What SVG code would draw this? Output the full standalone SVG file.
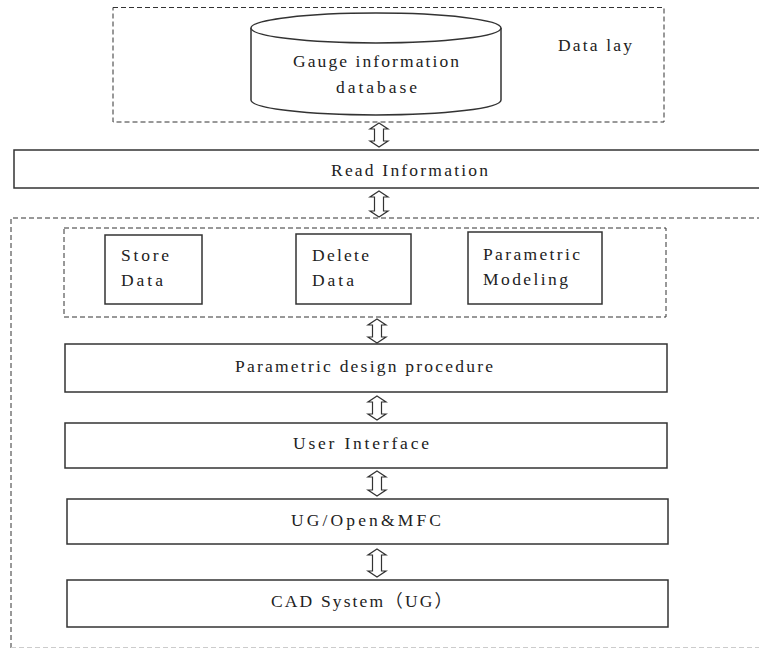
<svg xmlns="http://www.w3.org/2000/svg" width="759" height="649" viewBox="0 0 759 649">
<style>
.dash{fill:none;stroke:#333;stroke-width:1;stroke-dasharray:5,3}
.box{fill:#fff;stroke:#333;stroke-width:1.5}
.t{font-family:"Liberation Serif","Noto Sans CJK SC",serif;font-size:17.5px;fill:#222}
.arr{fill:#fff;stroke:#333;stroke-width:1.2;stroke-linejoin:miter}
</style>
<rect width="759" height="649" fill="#fff"/>
<g id="data-layer">
<rect class="dash" x="113" y="7.5" width="551" height="114.5"/>
<text class="t" x="558" y="51" textLength="74" lengthAdjust="spacing">Data lay</text>
</g>
<g id="database">
<path class="box" d="M251,28 L251,100 A125,15 0 0 0 501,100 L501,28"/>
<ellipse class="box" cx="376" cy="28" rx="125" ry="15"/>
<text class="t" x="293" y="67" textLength="166" lengthAdjust="spacing">Gauge information</text>
<text class="t" x="336" y="93" textLength="81" lengthAdjust="spacing">database</text>
</g>
<g id="read-information">
<rect class="box" x="14" y="150" width="750" height="38"/>
<text class="t" x="331" y="176" textLength="157" lengthAdjust="spacing">Read Information</text>
</g>
<g id="application-layer">
<path class="dash" d="M11,648 L11,218 L762,218"/>
<line x1="11" y1="647.5" x2="759" y2="647.5" stroke="#ccc" stroke-width="1" stroke-dasharray="5,3"/>
</g>
<g id="function-group">
<rect class="dash" x="64" y="228" width="602" height="89"/>
</g>
<g id="store-data">
<rect class="box" x="105" y="235" width="97" height="69"/>
<text class="t" x="121" y="261" textLength="48" lengthAdjust="spacing">Store</text>
<text class="t" x="121" y="286" textLength="42" lengthAdjust="spacing">Data</text>
</g>
<g id="delete-data">
<rect class="box" x="296" y="234" width="115" height="70"/>
<text class="t" x="312" y="261" textLength="57" lengthAdjust="spacing">Delete</text>
<text class="t" x="312" y="286" textLength="42" lengthAdjust="spacing">Data</text>
</g>
<g id="parametric-modeling">
<rect class="box" x="468" y="232" width="134" height="72"/>
<text class="t" x="483" y="260" textLength="97" lengthAdjust="spacing">Parametric</text>
<text class="t" x="483" y="285" textLength="85" lengthAdjust="spacing">Modeling</text>
</g>
<g id="parametric-design-procedure">
<rect class="box" x="65" y="344" width="602" height="48"/>
<text class="t" x="235" y="372" textLength="258" lengthAdjust="spacing">Parametric design procedure</text>
</g>
<g id="user-interface">
<rect class="box" x="65" y="423" width="602" height="45"/>
<text class="t" x="293" y="449" textLength="136" lengthAdjust="spacing">User Interface</text>
</g>
<g id="ug-open-mfc">
<rect class="box" x="67" y="499" width="601" height="45"/>
<text class="t" x="291" y="526" textLength="150" lengthAdjust="spacing">UG/Open&amp;MFC</text>
</g>
<g id="cad-system">
<rect class="box" x="67" y="580" width="601" height="47"/>
<text class="t" x="271" y="607" textLength="181" lengthAdjust="spacing">CAD System（UG）</text>
</g>
<g id="connectors">
<path class="arr" d="M379,123 L388,129 L383.5,129 L383.5,141 L388,141 L379,147 L370,141 L374.5,141 L374.5,129 L370,129 Z"/>
<path class="arr" d="M379,191 L388,197 L383.5,197 L383.5,211 L388,211 L379,217 L370,211 L374.5,211 L374.5,197 L370,197 Z"/>
<path class="arr" d="M377,319 L386,325 L381.5,325 L381.5,337 L386,337 L377,343 L368,337 L372.5,337 L372.5,325 L368,325 Z"/>
<path class="arr" d="M377,396 L386,402 L381.5,402 L381.5,414 L386,414 L377,420 L368,414 L372.5,414 L372.5,402 L368,402 Z"/>
<path class="arr" d="M377,471 L386,477 L381.5,477 L381.5,490 L386,490 L377,496 L368,490 L372.5,490 L372.5,477 L368,477 Z"/>
<path class="arr" d="M377,549 L386,555 L381.5,555 L381.5,571 L386,571 L377,577 L368,571 L372.5,571 L372.5,555 L368,555 Z"/>
</g>
</svg>
